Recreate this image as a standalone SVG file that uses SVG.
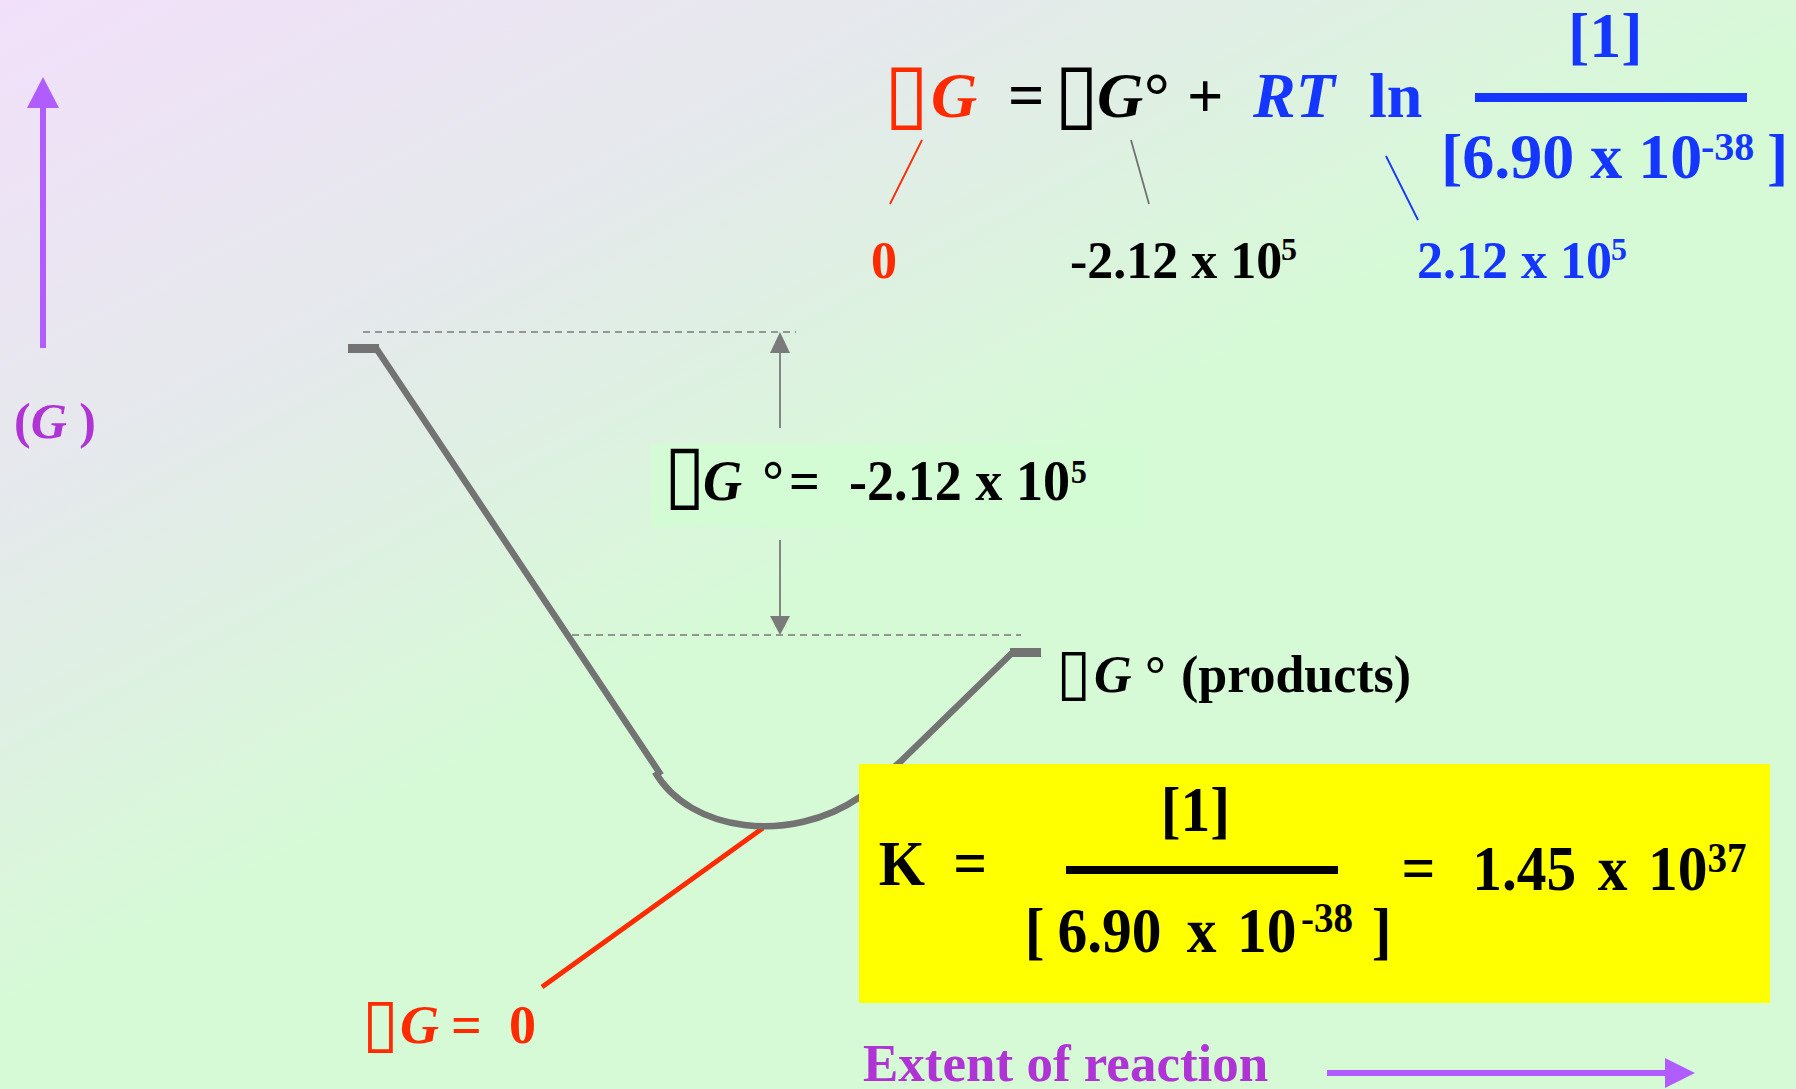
<svg xmlns="http://www.w3.org/2000/svg" width="1796" height="1089" viewBox="0 0 1796 1089">
<defs>
<linearGradient id="bg" gradientUnits="userSpaceOnUse" x1="0" y1="0" x2="420" y2="790">
<stop offset="0" stop-color="#f2e0fa"/>
<stop offset="0.5" stop-color="#e5e9ec"/>
<stop offset="1" stop-color="#d6fad6"/>
</linearGradient>
<style>
.t{font-family:"Liberation Serif","Times New Roman",serif;font-weight:bold}
.i{font-style:italic}
.bx{font-family:"DejaVu Sans",sans-serif;font-weight:normal;font-style:normal}
.red{fill:#ff2a00}
.blk{fill:#000}
.blu{fill:#1436ff}
.pur{fill:#b033d6}
.curve{fill:none;stroke:#737373;stroke-width:6.5}
.bar{fill:none;stroke:#737373;stroke-width:9}
.dash{stroke:#7a7a7a;stroke-width:1.6;stroke-dasharray:7 5;fill:none}
.garr{stroke:#7a7a7a;stroke-width:1.8}
</style>
</defs>
<rect x="0" y="0" width="1796" height="1089" fill="url(#bg)"/>

<g id="g-axis">
<line x1="43" y1="348" x2="43" y2="105" stroke="#b05cff" stroke-width="6"/>
<polygon points="27,108 43,77 59,108" fill="#b05cff"/>
<text class="t pur" x="14" y="438" font-size="50">(<tspan class="i">G</tspan> )</text>
</g>

<g id="extent-axis">
<text class="t pur" x="863" y="1081" font-size="53">Extent of reaction</text>
<line x1="1327" y1="1073" x2="1668" y2="1073" stroke="#b05cff" stroke-width="6"/>
<polygon points="1665,1058 1695,1073 1665,1088" fill="#b05cff"/>
</g>

<g id="connectors">
<line class="dash" x1="363" y1="332" x2="796" y2="332"/>
<line class="dash" x1="572" y1="635" x2="1021" y2="635"/>
<line class="garr" x1="780" y1="428" x2="780" y2="350"/>
<polygon points="770,353 780,332 790,353" fill="#7a7a7a"/>
<line class="garr" x1="780" y1="540" x2="780" y2="618"/>
<polygon points="770,616 780,635 790,616" fill="#7a7a7a"/>
<line x1="922" y1="140" x2="890" y2="204" stroke="#ff2a00" stroke-width="1.8"/>
<line x1="1131" y1="140" x2="1149" y2="204" stroke="#707070" stroke-width="1.8"/>
<line x1="1386" y1="156" x2="1418" y2="220" stroke="#1436ff" stroke-width="1.8"/>
<line x1="763" y1="828" x2="542" y2="987" stroke="#ff2a00" stroke-width="5"/>
</g>

<g id="energy-curve">
<line class="bar" x1="348" y1="348.5" x2="379" y2="348.5"/>
<line class="curve" x1="376" y1="348" x2="661" y2="775"/>
<path class="curve" d="M 655 772 C 690 832, 790 845, 860 797 L 900 762 L 1013 652"/>
<line class="bar" x1="1010" y1="652.5" x2="1041" y2="652.5"/>
</g>

<g id="equation">
<text class="t red" y="117" font-size="64"><tspan class="bx" x="884" y="120" font-size="82">▯</tspan><tspan class="i" x="931" y="117">G</tspan></text>
<text class="t blk" x="1008" y="117" font-size="64">=</text>
<text class="t blk" y="117" font-size="64"><tspan class="bx" x="1054" y="120" font-size="82">▯</tspan><tspan class="i" x="1097" y="117">G</tspan><tspan x="1144">°</tspan><tspan x="1187">+</tspan></text>
<text class="t blu i" x="1253" y="117" font-size="64">RT</text>
<text class="t blu" x="1369" y="117" font-size="64">ln</text>
<text class="t blu" x="1568" y="57" font-size="64">[1]</text>
<rect x="1475" y="93" width="272" height="9" fill="#1436ff"/>
<text class="t blu" y="178" font-size="64"><tspan x="1441">[6.90 x 10</tspan><tspan x="1701" y="160" font-size="40">-38</tspan><tspan x="1767" y="178">]</tspan></text>
</g>

<g id="values">
<text class="t red" x="871" y="278" font-size="52">0</text>
<text class="t blk" y="278" font-size="52"><tspan x="1070">-2.12 x 10</tspan><tspan x="1281" y="260" font-size="32">5</tspan></text>
<text class="t blu" y="278" font-size="52"><tspan x="1417">2.12 x 10</tspan><tspan x="1611" y="260" font-size="32">5</tspan></text>
</g>

<g id="delta-g-box">
<rect x="651" y="444" width="496" height="83" fill="#d4fcd4"/>
<text class="t blk" y="500" font-size="57" transform="scale(0.95,1)"><tspan class="bx" x="699" y="500" font-size="80">▯</tspan><tspan class="i" x="740" y="500">G</tspan><tspan class="i" x="800">°</tspan><tspan x="830.5">=</tspan><tspan x="893.7">-2.12 x 10</tspan><tspan x="1127" y="483" font-size="34">5</tspan></text>
</g>

<g id="products-label">
<text class="t blk" y="692" font-size="52"><tspan class="bx" x="1056" y="693" font-size="64">▯</tspan><tspan class="i" x="1094" y="692">G</tspan><tspan x="1145">°</tspan><tspan x="1181">(products)</tspan></text>
</g>

<g id="k-box">
<rect x="859" y="764" width="911" height="239" fill="#ffff00"/>
<g transform="scale(0.93,1)">
<text class="t blk" y="885" font-size="64"><tspan x="945">K</tspan><tspan x="1025">=</tspan></text>
<text class="t blk" x="1248" y="831" font-size="64">[1]</text>
<text class="t blk" y="952" font-size="64"><tspan x="1102">[</tspan><tspan x="1137">6.90</tspan><tspan x="1276">x</tspan><tspan x="1330">10</tspan><tspan x="1399" y="932" font-size="42">-38</tspan><tspan x="1475" y="952">]</tspan></text>
<text class="t blk" y="890" font-size="64"><tspan x="1507">=</tspan><tspan x="1583">1.45</tspan><tspan x="1718">x</tspan><tspan x="1772">10</tspan><tspan x="1836" y="872" font-size="42">37</tspan></text>
</g>
<rect x="1066" y="866" width="272" height="8" fill="#000"/>
</g>

<g id="equilibrium-label">
<text class="t red" y="1043" font-size="54"><tspan class="bx" x="362" y="1045" font-size="67">▯</tspan><tspan class="i" x="400" y="1043">G</tspan><tspan x="451">=</tspan><tspan x="509">0</tspan></text>
</g>
</svg>
